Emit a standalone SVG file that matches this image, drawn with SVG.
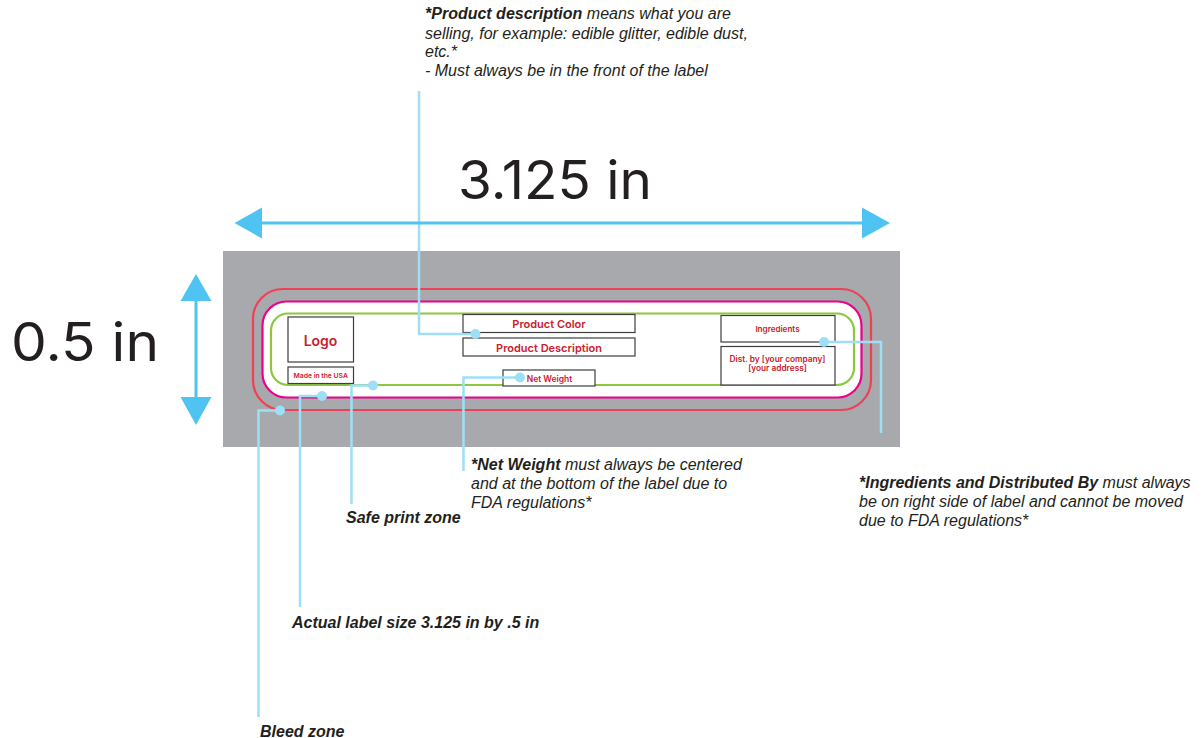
<svg xmlns="http://www.w3.org/2000/svg" width="1202" height="738" viewBox="0 0 1202 738">
<style>
.note{font:italic 16px "Liberation Sans",Arial,sans-serif;fill:#231f20}
.note .b,.b{font-weight:bold}
.big{font-family:Inter,"Liberation Sans",sans-serif;font-size:53px;fill:#231f20}
.red{font-family:Inter,"Liberation Sans",sans-serif;fill:#c8202f;text-anchor:middle;font-weight:600}
.box{fill:#fff;stroke:#3c3c3c;stroke-width:1.2}
.lead{fill:none;stroke:#9fdff5;stroke-width:2.500}
.dot{fill:#9fdff5}
.dim{fill:none;stroke:#4fc3f1;stroke-width:3}
.head{fill:#4fc3f1}
</style>
<g id="label-sheet">
<rect x="223" y="251" width="677" height="196" fill="#a7a9ac"/>
<rect id="bleed" x="253" y="289" width="618" height="121" rx="30" fill="none" stroke="#ef4056" stroke-width="2.200"/>
<rect id="actual" x="262.500" y="301.500" width="599" height="96" rx="24" fill="#fff" stroke="#ec008c" stroke-width="2.200"/>
<rect id="safe" x="271" y="313.500" width="583" height="71.500" rx="17" fill="none" stroke="#8dc63f" stroke-width="2.200"/>
</g>
<g id="logo"><rect class="box" x="288" y="317" width="65.500" height="45"/><text class="red" x="320.500" y="345.500" font-size="14">Logo</text></g>
<g id="made"><rect class="box" x="288" y="367" width="65.500" height="16.500"/><text class="red" x="320.700" y="378" font-size="6.800">Made in the USA</text></g>
<g id="product-color"><rect class="box" x="463" y="314.500" width="172" height="18"/><text class="red" x="549" y="328" font-size="11">Product Color</text></g>
<g id="product-description"><rect class="box" x="463" y="338" width="172" height="18"/><text class="red" x="549" y="351.500" font-size="11">Product Description</text></g>
<g id="net-weight"><rect class="box" x="503" y="370" width="92" height="16"/><text class="red" x="549.500" y="381.500" font-size="8.500">Net Weight</text></g>
<g id="ingredients"><rect class="box" x="721" y="315.500" width="114" height="26.500"/><text class="red" x="777.500" y="332" font-size="8.100">Ingredients</text></g>
<g id="distributed"><rect class="box" x="721" y="346.500" width="114" height="38.500"/><text class="red" x="777.500" y="362" font-size="8.300">Dist. by [your company]</text><text class="red" x="777.500" y="371" font-size="8.300">[your address]</text></g>
<g id="connectors">
<path class="lead" d="M419 91V334H476"/><circle class="dot" cx="475.500" cy="334" r="5"/>
<path class="lead" d="M463.500 471V377.500H520"/><circle class="dot" cx="520" cy="377.500" r="5"/>
<path class="lead" d="M881 433V342H824"/><circle class="dot" cx="824" cy="342" r="5"/>
<path class="lead" d="M351.500 504V385.500H373"/><circle class="dot" cx="373" cy="385.500" r="5"/>
<path class="lead" d="M300 607V396H322"/><circle class="dot" cx="322" cy="396" r="5"/>
<path class="lead" d="M258.500 717V410.500H280"/><circle class="dot" cx="280" cy="410.500" r="5"/>
</g>
<g id="width-dimension">
<path class="dim" d="M260 223H864"/>
<path class="head" d="M234.500 223L262 207.500V238.500Z"/><path class="head" d="M890 223L862 207.500V238.500Z"/>
<text class="big" x="458" y="199" textLength="194" lengthAdjust="spacingAndGlyphs">3.125 in</text>
</g>
<g id="height-dimension">
<path class="dim" d="M196 298V398"/>
<path class="head" d="M196 274L180.500 301H211.500Z"/><path class="head" d="M196 425L180.500 397H211.500Z"/>
<text class="big" x="11" y="361" textLength="148" lengthAdjust="spacingAndGlyphs">0.5 in</text>
</g>
<g id="notes">
<text class="note" x="425" y="19"><tspan class="b">*Product description</tspan> means what you are</text>
<text class="note" x="425" y="39">selling, for example: edible glitter, edible dust,</text>
<text class="note" x="425" y="57">etc.*</text>
<text class="note" x="425" y="76">- Must always be in the front of the label</text>
<text class="note" x="471" y="470"><tspan class="b">*Net Weight</tspan> must always be centered</text>
<text class="note" x="471" y="489">and at the bottom of the label due to</text>
<text class="note" x="471" y="508">FDA regulations*</text>
<text class="note" x="859" y="488"><tspan class="b">*Ingredients and Distributed By</tspan> must always</text>
<text class="note" x="859" y="507">be on right side of label and cannot be moved</text>
<text class="note" x="859" y="526">due to FDA regulations*</text>
<text class="note b" x="346" y="523">Safe print zone</text>
<text class="note b" x="292" y="628">Actual label size 3.125 in by .5 in</text>
<text class="note b" x="260" y="737">Bleed zone</text>
</g>
</svg>
